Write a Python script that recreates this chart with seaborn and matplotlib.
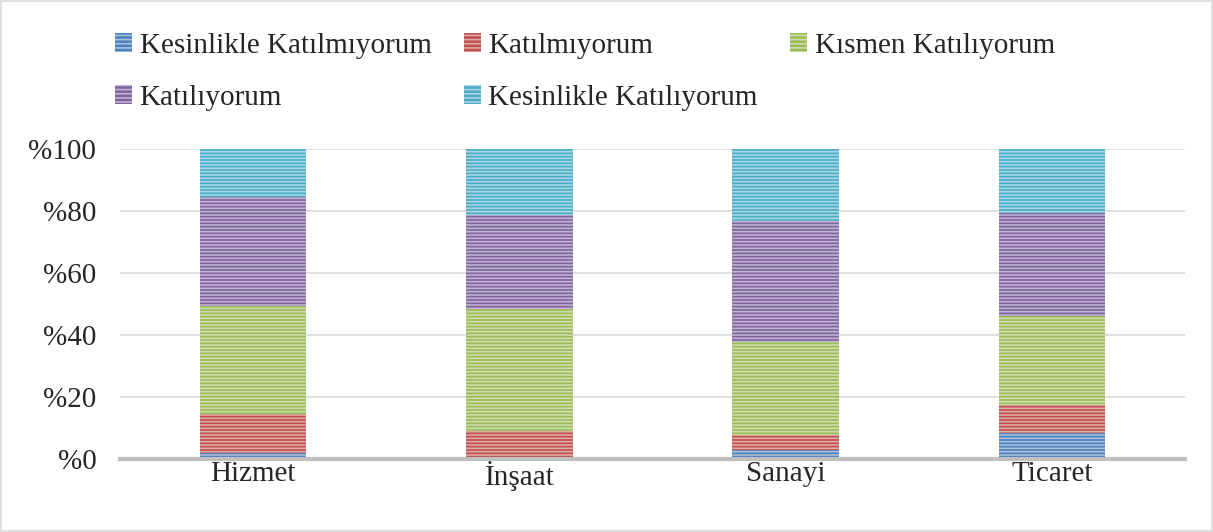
import matplotlib
matplotlib.use("Agg")
import matplotlib.pyplot as plt
import matplotlib.colors as mcolors
from matplotlib.patches import Patch, Rectangle
import numpy as np
import seaborn as sns

sektorler = ["Hizmet", "İnşaat", "Sanayi", "Ticaret"]
seriler = ["Kesinlikle Katılmıyorum", "Katılmıyorum", "Kısmen Katılıyorum",
           "Katılıyorum", "Kesinlikle Katılıyorum"]
kesinlikle_katilmiyorum = [2.0, 0.0, 3.0, 8.3]
katilmiyorum = [12.5, 9.0, 4.7, 9.3]
kismen_katiliyorum = [35.0, 39.3, 30.1, 28.6]
katiliyorum = [35.1, 30.4, 39.1, 33.0]
kesinlikle_katiliyorum = [15.4, 21.3, 23.1, 20.8]
renkler = ["#4F81BD", "#C0504D", "#9BBB59", "#8064A2", "#4BACC6"]
yuzde_etiketleri = ["%0", "%20", "%40", "%60", "%80", "%100"]

sns.set_style("white")
plt.rcParams["font.family"] = ["Liberation Serif", "DejaVu Serif"]
plt.rcParams["hatch.linewidth"] = 1.2

def acik(renk, oran=0.5):
    r = np.array(mcolors.to_rgb(renk))
    return tuple(r + (1 - r) * oran)

fig = plt.figure(figsize=(12.13, 5.32), dpi=100)
ax = fig.add_axes([0.0989, 0.137, 0.8781, 0.583])

degerler = np.array([kesinlikle_katilmiyorum, katilmiyorum, kismen_katiliyorum,
                     katiliyorum, kesinlikle_katiliyorum])
kumulatif = degerler.cumsum(axis=0)

# en ustten baslayip asagi dogru ciz, her bar oncekinin ustunu kapatir
for i in range(len(seriler) - 1, -1, -1):
    sns.barplot(x=sektorler, y=kumulatif[i], color=renkler[i], width=0.4,
                edgecolor=acik(renkler[i]), linewidth=0, hatch="-----",
                saturation=1, ax=ax, zorder=3)

ax.set_ylim(0, 100)
ax.set_xlim(-0.5, 3.5)
ax.set_yticks([0, 20, 40, 60, 80, 100])
ax.set_yticklabels(yuzde_etiketleri, fontsize=21)
ax.tick_params(axis="x", labelsize=21, pad=1, length=0)
ax.tick_params(axis="y", pad=17, length=0)
ax.set_xlabel("")
ax.set_ylabel("")
ax.yaxis.grid(True, color="#D9D9D9", linewidth=1.2, zorder=0)
for s in ["top", "right", "left"]:
    ax.spines[s].set_visible(False)
ax.spines["bottom"].set_color("#BFBFBF")
ax.spines["bottom"].set_linewidth(3)
ax.spines["bottom"].set_zorder(4)

tutamaclar = [Patch(facecolor=renkler[i], edgecolor=acik(renkler[i]), hatch="----",
                    linewidth=0, label=seriler[i]) for i in range(5)]
sira = [0, 3, 1, 4, 2]
fig.legend([tutamaclar[i] for i in sira], [seriler[i] for i in sira],
           ncol=3, loc="upper left", bbox_to_anchor=(0.073, 0.988),
           frameon=False, fontsize=21, handlelength=0.6, handleheight=0.6,
           handletextpad=0.25, columnspacing=1.1, labelspacing=0.9)

fig.patches.append(Rectangle((0.001, 0.002), 0.998, 0.996, transform=fig.transFigure,
                             fill=False, edgecolor="#D9D9D9", linewidth=1.2))

fig.savefig("out.png", dpi=100)
